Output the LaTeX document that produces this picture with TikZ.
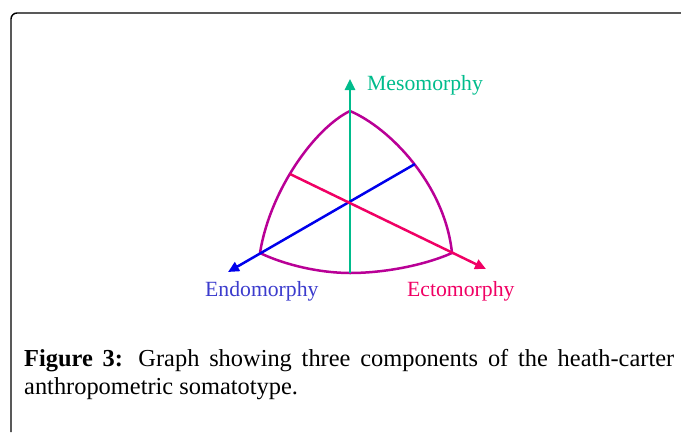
\documentclass[tikz,border=0pt]{standalone}
\usepackage{fontspec}
\setmainfont{Liberation Serif}
\usepackage{xcolor}
\usepackage{tikz}
\usetikzlibrary{arrows.meta, positioning}
\definecolor{mesogreen}{RGB}{0, 188, 140}
\definecolor{endoblue}{RGB}{0, 0, 235}
\definecolor{endotext}{RGB}{60, 60, 205}
\definecolor{ectored}{RGB}{240, 0, 100}
\definecolor{outline}{RGB}{185, 0, 150}
\tikzstyle{axis} = [
    line width=2.5pt,
    -{Triangle[length=11pt, width=10pt]}
]
\tikzstyle{bound} = [
    line width=2.5pt,
    color=outline,
    line join=round
]
\tikzstyle{label} = [
    anchor=base west,
    inner sep=0pt,
    font=\fontsize{21.7}{24}\selectfont
]

\begin{document}
\begin{tikzpicture}[x=1pt, y=-1pt]
        \useasboundingbox (0,0) rectangle (681,432);
        % Frame
        \draw[line width=1.4pt, rounded corners=6pt] (11,432) -- (11,13) -- (681,13);

        % Points
        \coordinate (top) at (350,111);
        \coordinate (left) at (260,253);
        \coordinate (right) at (452,253);
        \coordinate (bottom) at (350,273);
        \coordinate (endostart) at (415,164);
        \coordinate (endotip) at (228,272);
        \coordinate (ectostart) at (290,174);
        \coordinate (ectotip) at (486,269);
        \coordinate (mesotip) at (350,79);

        % Outline
        \draw[bound] (top) .. controls (315,128) and (270,190) .. (left)
            .. controls (285,265) and (320,273) .. (bottom)
            .. controls (385,273) and (425,265) .. (right)
            .. controls (445,185) and (390,128) .. (top);

        % Axes
        \draw[axis, color=mesogreen] (bottom) -- (mesotip);
        \draw[axis, color=endoblue] (endostart) -- (endotip);
        \draw[axis, color=ectored] (ectostart) -- (ectotip);

        % Labels
        \node[label, text=mesogreen] (meso) at (367,90) {Mesomorphy};
        \node[label, text=endotext] (endo) at (205,296) {Endomorphy};
        \node[label, text=ectored] (ecto) at (407,296) {Ectomorphy};

        % Caption
        \node[anchor=base west, inner sep=0pt, text width=650pt, align=justify,
            font=\fontsize{24.4}{28}\selectfont] (caption) at (24,366)
            {\textbf{Figure 3:} Graph showing three components of the heath-carter\linebreak anthropometric somatotype.};
    \end{tikzpicture}
\end{document}
